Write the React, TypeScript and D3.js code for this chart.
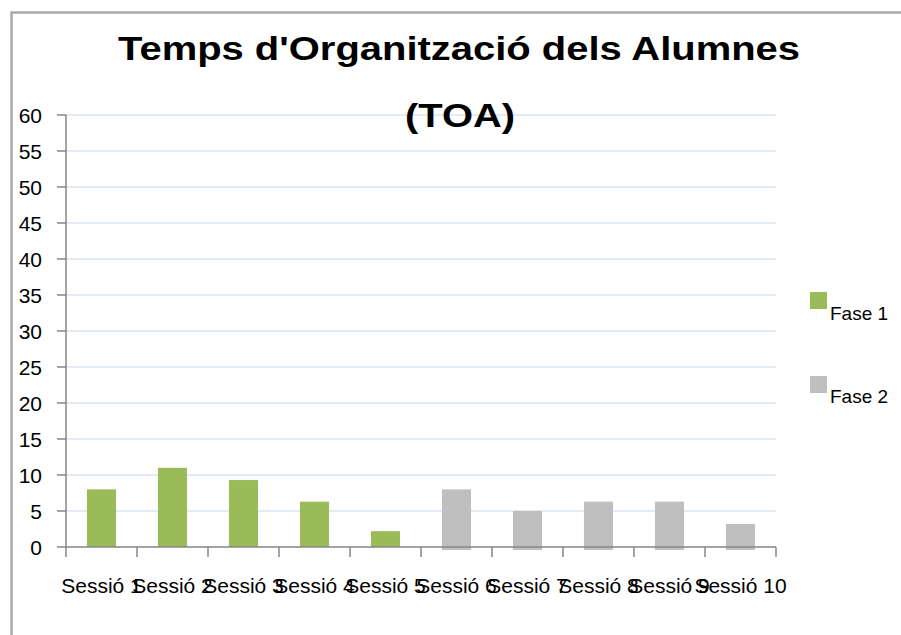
import React from "react";
import * as d3 from "d3";

const categories = ["Sessió 1", "Sessió 2", "Sessió 3", "Sessió 4", "Sessió 5", "Sessió 6", "Sessió 7", "Sessió 8", "Sessió 9", "Sessió 10"];
const fase1: (number | null)[] = [8, 11, 9.3, 6.3, 2.2, null, null, null, null, null];
const fase2: (number | null)[] = [null, null, null, null, null, 8, 5, 6.3, 6.3, 3.2];
const yTicks = [0, 5, 10, 15, 20, 25, 30, 35, 40, 45, 50, 55, 60];
const seriesNames = ["Fase 1", "Fase 2"];
const titleLines = ["Temps d'Organització dels Alumnes", "(TOA)"];

const colors = ["#9bbb59", "#bfbfbf"];
const FONT = "'Liberation Sans', Arial, sans-serif";

export default function App() {
  const W = 901, H = 635;
  const x = d3.scaleBand<string>().domain(categories).range([66, 776]).paddingInner(0).paddingOuter(0);
  const y = d3.scaleLinear().domain([0, 60]).range([547, 115]);
  const barW = x.bandwidth() * 0.41;
  const series = [fase1, fase2];
  const below = [0, 3];

  return (
    <svg width={W} height={H} style={{ position: "absolute", left: 0, top: 0, background: "#fff" }} fontFamily={FONT}>
      <rect x={0} y={0} width={W} height={H} fill="#fff" />
      {/* frame */}
      <path d={`M11.5,${H} L11.5,12.5 L${W},12.5`} fill="none" stroke="#a9a9a9" strokeWidth={2.5} />
      {/* title */}
      <text x={459} y={60} textAnchor="middle" fontSize={34} fontWeight="bold" fill="#000"
        textLength={682} lengthAdjust="spacingAndGlyphs">{titleLines[0]}</text>
      {/* gridlines */}
      {yTicks.filter(t => t > 0).map(t => (
        <line key={"g" + t} x1={66} x2={776} y1={y(t)} y2={y(t)} stroke="#dce4f2" strokeWidth={1.5} />
      ))}
      <text x={460} y={127} textAnchor="middle" fontSize={34} fontWeight="bold" fill="#000"
        textLength={110} lengthAdjust="spacingAndGlyphs">{titleLines[1]}</text>
      {/* bars */}
      {series.map((s, si) =>
        s.map((v, i) => v == null ? null : (
          <rect key={`b${si}-${i}`} x={(x(categories[i]) as number) + (x.bandwidth() - barW) / 2}
            y={y(v)} width={barW} height={y(0) - y(v) + below[si]} fill={colors[si]} />
        ))
      )}
      {/* y axis */}
      <line x1={66} x2={66} y1={y(60)} y2={y(0)} stroke="#868686" strokeWidth={1.5} />
      {yTicks.map(t => (
        <g key={"t" + t}>
          <line x1={57} x2={66} y1={y(t)} y2={y(t)} stroke="#868686" strokeWidth={1.5} />
          <text x={42} y={y(t) + 7.5} textAnchor="end" fontSize={21} fill="#000">{t}</text>
        </g>
      ))}
      {/* x axis */}
      <line x1={66} x2={776} y1={y(0)} y2={y(0)} stroke="#868686" strokeWidth={1.5} />
      {categories.map((c, i) => (
        <line key={"xt" + i} x1={x(c) as number} x2={x(c) as number} y1={y(0)} y2={y(0) + 10} stroke="#868686" strokeWidth={1.5} />
      ))}
      <line x1={776} x2={776} y1={y(0)} y2={y(0) + 10} stroke="#868686" strokeWidth={1.5} />
      {categories.map((c, i) => (
        <text key={"xl" + i} x={(x(c) as number) + x.bandwidth() / 2} y={593} textAnchor="middle" fontSize={21} fill="#000">{c}</text>
      ))}
      {/* legend */}
      {seriesNames.map((n, i) => (
        <g key={"l" + i}>
          <rect x={810} y={292 + i * 84} width={17} height={17} fill={colors[i]} />
          <text x={830} y={320 + i * 83} fontSize={19} fill="#000">{n}</text>
        </g>
      ))}
    </svg>
  );
}
